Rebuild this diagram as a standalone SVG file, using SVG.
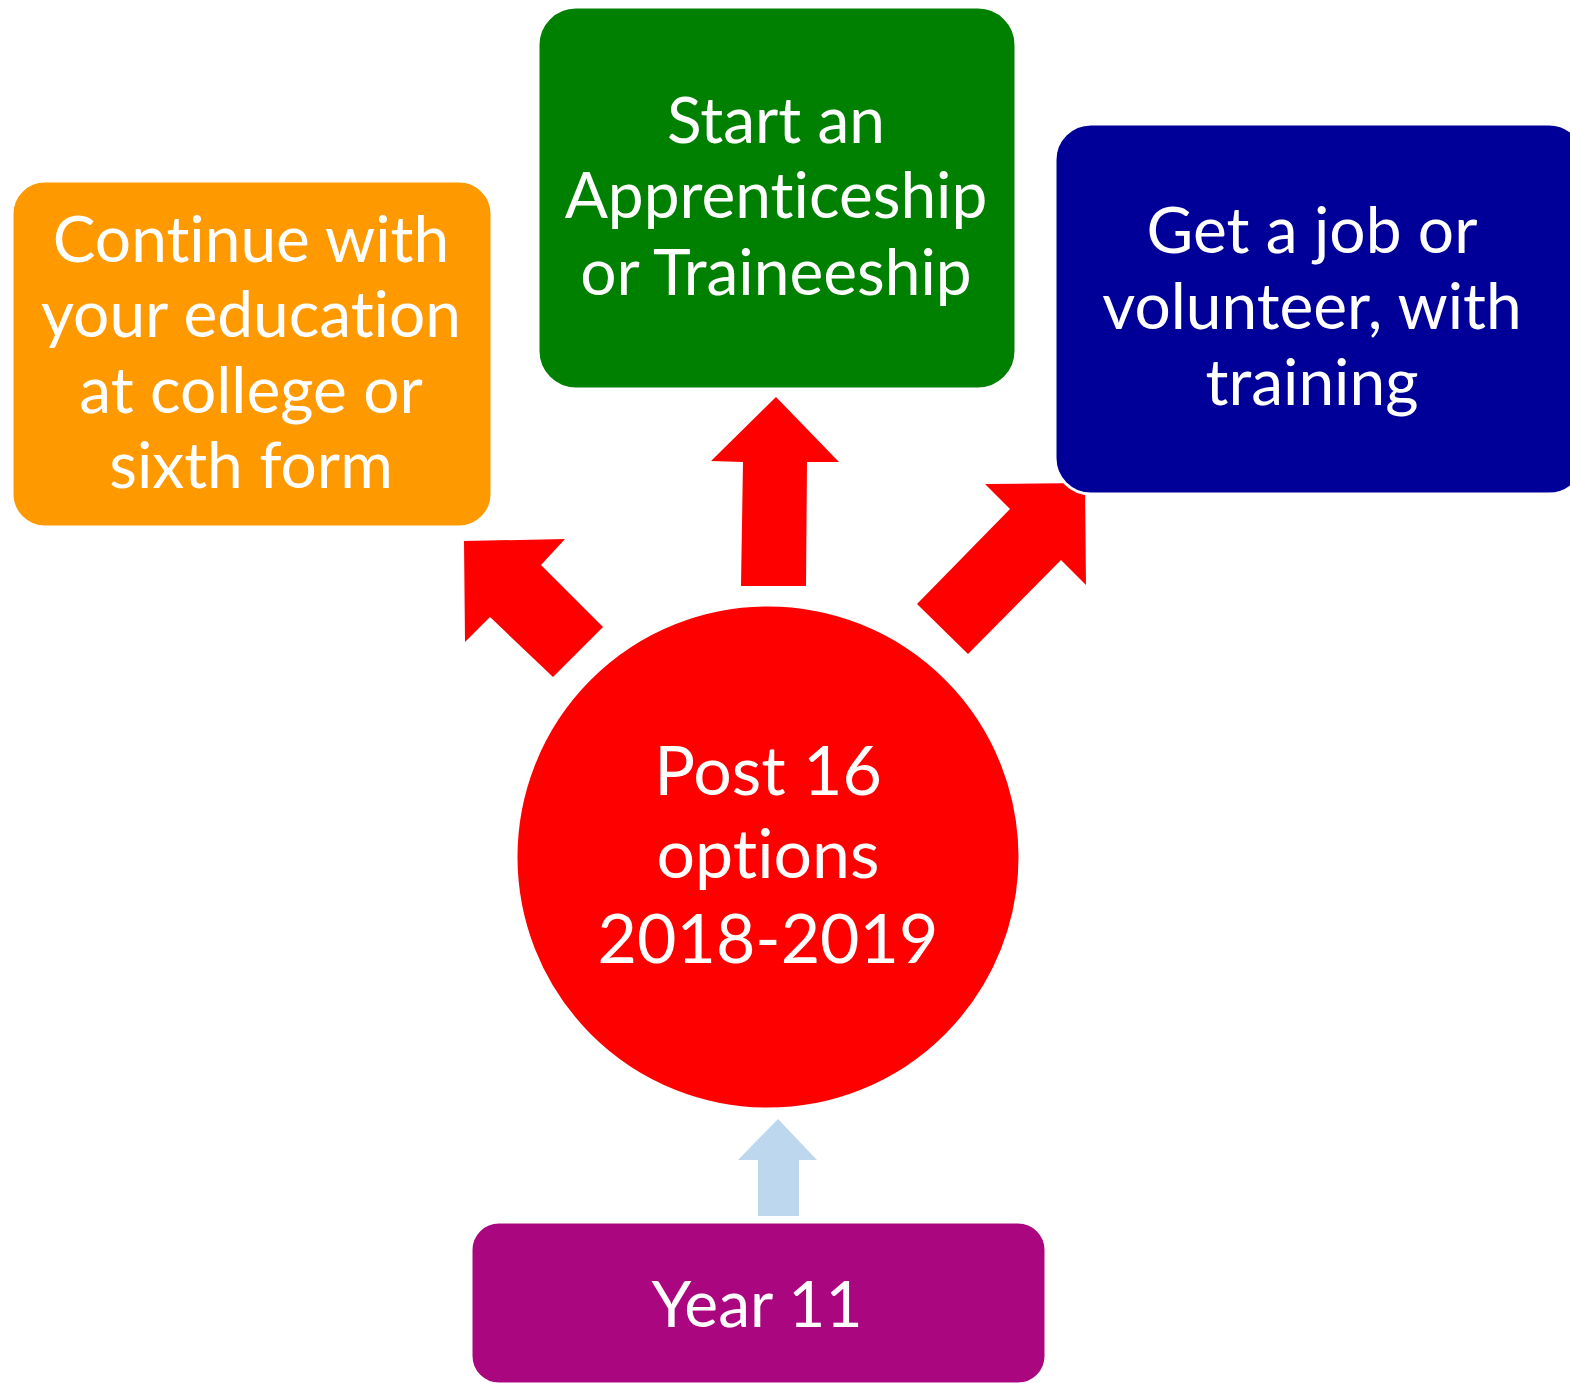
<svg xmlns="http://www.w3.org/2000/svg" width="1570" height="1383" viewBox="0 0 1570 1383">
<style>
.t{font-family:Lato,"Open Sans","Liberation Sans",sans-serif;fill:#fff;text-anchor:middle;font-size:64px;font-variant-ligatures:none;font-feature-settings:"liga" 0}
.c{font-size:68px}
.box{stroke:#fff;stroke-width:3}
.arr{fill:#FF0000}
</style>
<rect width="1570" height="1383" fill="#fff"/>
<g id="connectors">
<polygon class="arr" points="464,541 565,539 541,565 603,627 553,677 490,617 465,642"/>
<polygon class="arr" points="776,397 839,462 807,462 806,586 741,586 743,462 711,461"/>
<polygon class="arr" points="985,484 1085,483 1086,585 1061,560 968,654 917,604 1010,509"/>
<polygon fill="#BDD7EE" points="778,1119 817,1160 799,1160 799,1216 758,1216 758,1160 738,1160"/>
</g>
<g id="node-education">
<rect class="box" x="12" y="181" width="480" height="346" rx="33" fill="#FF9900"/>
<text class="t"><tspan x="251" y="262">Continue with</tspan><tspan x="251" y="337">your education</tspan><tspan x="251" y="413">at college or</tspan><tspan x="251" y="488">sixth form</tspan></text>
</g>
<g id="node-apprenticeship">
<rect class="box" x="538" y="7" width="478" height="382" rx="38" fill="#008000"/>
<text class="t"><tspan x="776" y="143">Start an</tspan><tspan x="776" y="218">Apprenticeship</tspan><tspan x="776" y="295">or Traineeship</tspan></text>
</g>
<g id="node-job">
<rect class="box" x="1055" y="124" width="530" height="370" rx="36" fill="#000099"/>
<text class="t"><tspan x="1312" y="253">Get a job or</tspan><tspan x="1312" y="329">volunteer, with</tspan><tspan x="1312" y="405">training</tspan></text>
</g>
<g id="node-post16">
<circle class="box" cx="768" cy="857" r="252" fill="#FF0000"/>
<text class="t c"><tspan x="768" y="795">Post 16</tspan><tspan x="768" y="878">options</tspan><tspan x="768" y="963">2018-2019</tspan></text>
</g>
<g id="node-year11">
<rect class="box" x="471" y="1222" width="575" height="162" rx="28" fill="#AA0680"/>
<text class="t"><tspan x="757" y="1327">Year 11</tspan></text>
</g>
</svg>
